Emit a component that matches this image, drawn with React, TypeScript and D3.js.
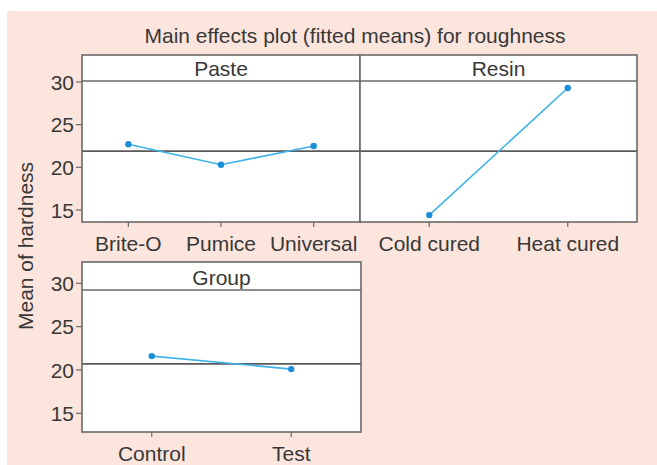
import React from 'react'
import * as d3 from 'd3'

// data
const pasteLevels = ['Brite-O', 'Pumice', 'Universal']
const pasteMeans = [22.7, 20.3, 22.5]
const resinLevels = ['Cold cured', 'Heat cured']
const resinMeans = [14.4, 29.3]
const groupLevels = ['Control', 'Test']
const groupMeans = [21.6, 20.1]
const topMean = 21.9
const groupMean = 20.7
const yTicks = [15, 20, 25, 30]

const W = 657
const H = 465
const FONT = 'Liberation Sans, Arial, sans-serif'
const FS = 21
const TXT = '#383838'
const LINE = '#3db3e8'
const DOT = '#1a8fd6'
const FRAME = '#6a6a6a'

type PanelProps = {
  title: string
  levels: string[]
  means: number[]
  mean: number
  x0: number
  x1: number
  top: number
  bottom: number
  strip: number
  y30: number
  y15: number
  axis: boolean
}

function Panel(p: PanelProps) {
  const x = d3.scalePoint<string>().domain(p.levels).range([p.x0, p.x1]).padding(0.5)
  const y = d3.scaleLinear().domain([15, 30]).range([p.y15, p.y30])
  const line = d3.line<number>()
    .x((d, i) => x(p.levels[i]) as number)
    .y(d => y(d))

  return (
    <g>
      <rect x={p.x0} y={p.top} width={p.x1 - p.x0} height={p.bottom - p.top} fill="#fff" />
      <line x1={p.x0} x2={p.x1} y1={y(p.mean)} y2={y(p.mean)} stroke="#5a5a5a" strokeWidth={1.6} />
      <path d={line(p.means) || ''} fill="none" stroke={LINE} strokeWidth={1.6} />
      {p.means.map((d, i) => (
        <circle key={i} cx={x(p.levels[i])} cy={y(d)} r={3.2} fill={DOT} />
      ))}
      <line x1={p.x0} x2={p.x1} y1={p.strip} y2={p.strip} stroke={FRAME} strokeWidth={1.6} />
      <rect x={p.x0} y={p.top} width={p.x1 - p.x0} height={p.bottom - p.top}
        fill="none" stroke={FRAME} strokeWidth={1.6} />
      <text x={(p.x0 + p.x1) / 2} y={p.strip - 5} textAnchor="middle" fontSize={FS} fill={TXT}>
        {p.title}
      </text>
      {p.levels.map(l => (
        <g key={l}>
          <line x1={x(l)} x2={x(l)} y1={p.bottom} y2={p.bottom + 5} stroke={FRAME} strokeWidth={1.2} />
          <text x={x(l)} y={p.bottom + 29} textAnchor="middle" fontSize={FS} fill={TXT}>{l}</text>
        </g>
      ))}
      {p.axis && yTicks.map(t => (
        <g key={t}>
          <line x1={p.x0 - 6} x2={p.x0} y1={y(t)} y2={y(t)} stroke={FRAME} strokeWidth={1.2} />
          <text x={p.x0 - 8} y={y(t)} dy="0.36em" textAnchor="end" fontSize={FS} fill={TXT}>{t}</text>
        </g>
      ))}
    </g>
  )
}

export default function App() {
  return (
    <svg width={W} height={H} style={{ position: 'absolute', left: 0, top: 0 }} fontFamily={FONT}>
      <rect x={0} y={0} width={W} height={H} fill="#fff" />
      <rect x={7} y={11} width={W - 7} height={H - 11} fill="#fce5dc" />
      <text x={355} y={43} textAnchor="middle" fontSize={FS} fill={TXT}>
        Main effects plot (fitted means) for roughness
      </text>
      <text transform="translate(33,246) rotate(-90)" textAnchor="middle" fontSize={FS} fill={TXT}>
        Mean of hardness
      </text>
      <Panel title="Paste" levels={pasteLevels} means={pasteMeans} mean={topMean}
        x0={82} x1={360} top={55} bottom={222} strip={81} y30={82} y15={210} axis />
      <Panel title="Resin" levels={resinLevels} means={resinMeans} mean={topMean}
        x0={360} x1={637} top={55} bottom={222} strip={81} y30={82} y15={210} axis={false} />
      <Panel title="Group" levels={groupLevels} means={groupMeans} mean={groupMean}
        x0={82} x1={361} top={262} bottom={432} strip={290} y30={283.3} y15={413.3} axis />
    </svg>
  )
}
